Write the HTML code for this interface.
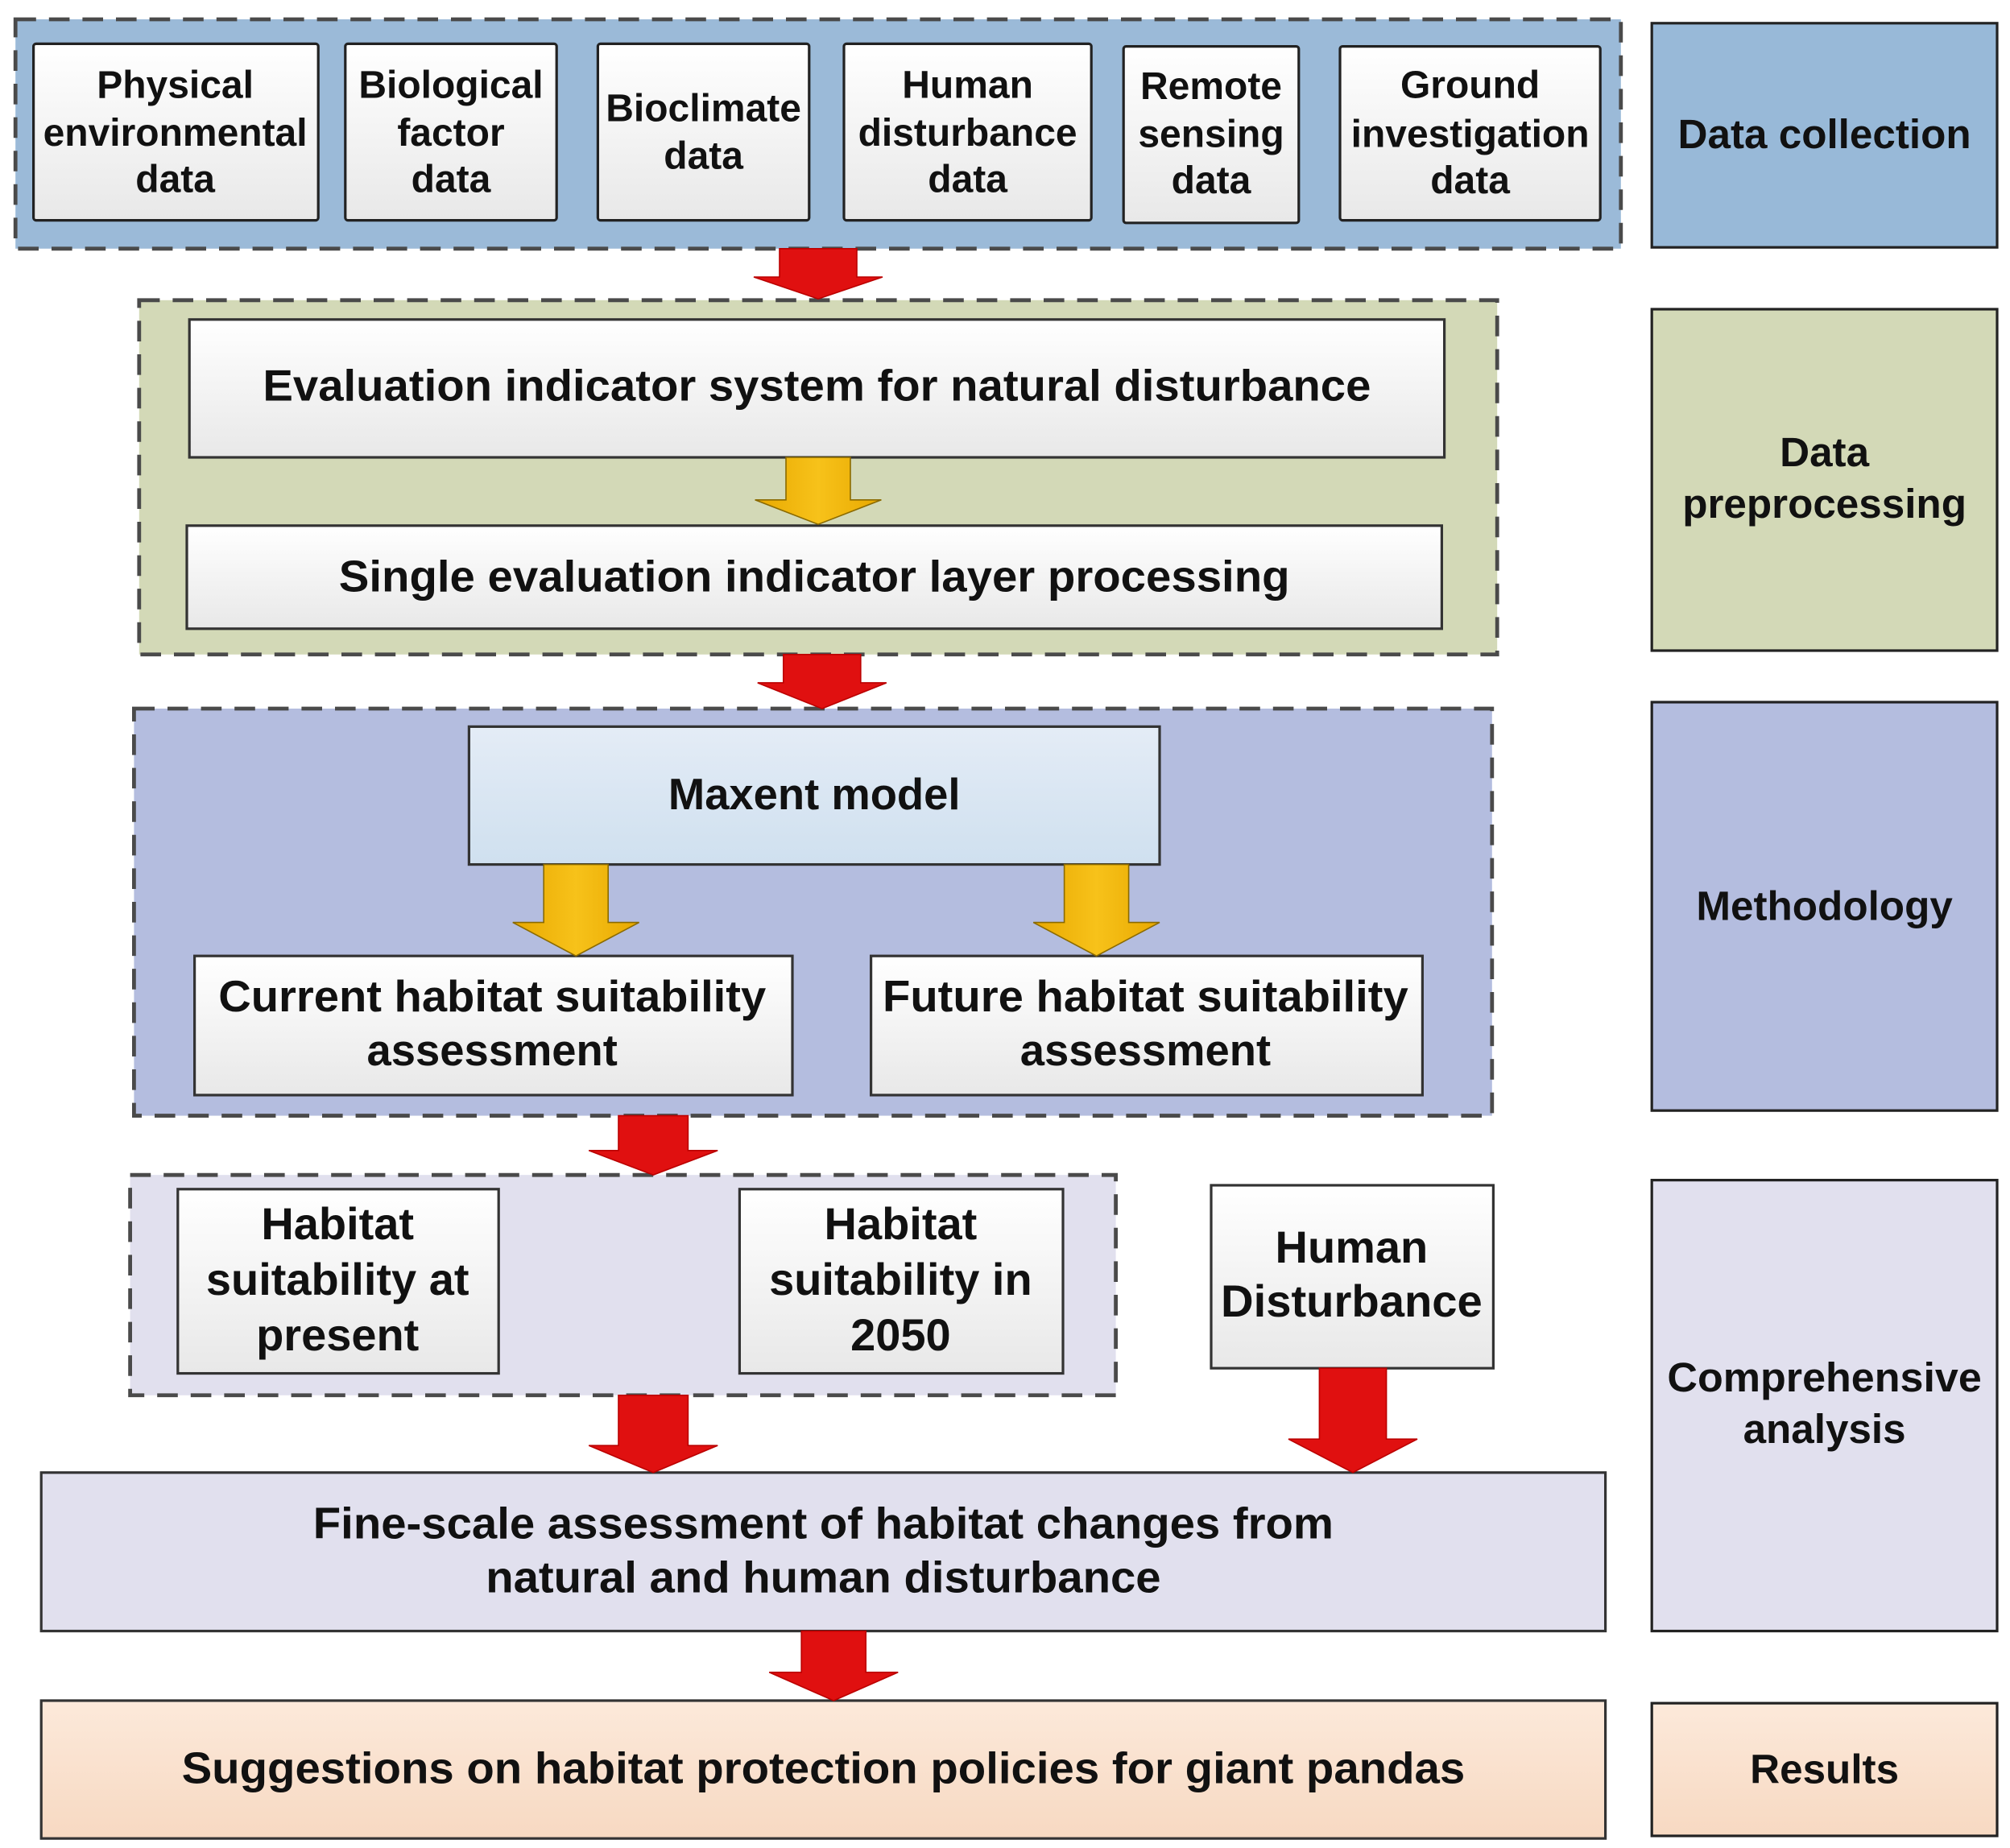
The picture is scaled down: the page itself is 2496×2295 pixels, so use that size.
<!DOCTYPE html>
<html><head><meta charset="utf-8"><style>
html,body{margin:0;padding:0;background:#fff;}
svg{display:block;}
text{font-family:"Liberation Sans",Arial,sans-serif;font-weight:bold;fill:#111;text-anchor:middle;}
</style></head><body>
<svg width="2496" height="2295" viewBox="0 0 1560 1434.4" preserveAspectRatio="none" xmlns="http://www.w3.org/2000/svg">
<defs>
<linearGradient id="wg" x1="0" y1="0" x2="0" y2="1"><stop offset="0" stop-color="#ffffff"/><stop offset="1" stop-color="#e8e8e8"/></linearGradient>
<linearGradient id="bg" x1="0" y1="0" x2="0" y2="1"><stop offset="0" stop-color="#e4ecf6"/><stop offset="1" stop-color="#cfe0ef"/></linearGradient>
<linearGradient id="pg" x1="0" y1="0" x2="0" y2="1"><stop offset="0" stop-color="#fce9da"/><stop offset="1" stop-color="#f7d9c2"/></linearGradient>
<linearGradient id="yg" x1="0" y1="0" x2="1" y2="0"><stop offset="0" stop-color="#e8a800"/><stop offset="0.5" stop-color="#f7c21a"/><stop offset="1" stop-color="#e8a800"/></linearGradient>
</defs>

<rect x="12" y="15" width="1246" height="178" fill="#9bbad8" stroke="#4a4a4a" stroke-width="3" stroke-dasharray="16,10"/>
<rect x="108" y="233" width="1054" height="275" fill="#d3d9b7" stroke="#4a4a4a" stroke-width="3" stroke-dasharray="16,10"/>
<rect x="104" y="550" width="1054" height="316" fill="#b4bddf" stroke="#4a4a4a" stroke-width="3" stroke-dasharray="16,10"/>
<rect x="101" y="912" width="765" height="171" fill="#e1e0ee" stroke="#4a4a4a" stroke-width="3" stroke-dasharray="16,10"/>

<rect x="1282" y="18" width="268" height="174" fill="#98b9d8" stroke="#222" stroke-width="2"/>
<text x="1416" y="115" font-size="32">Data collection</text>
<rect x="1282" y="240" width="268" height="265" fill="#d3d9b7" stroke="#222" stroke-width="2"/>
<text x="1416" y="362" font-size="32">Data</text>
<text x="1416" y="402" font-size="32">preprocessing</text>
<rect x="1282" y="545" width="268" height="317" fill="#b4bddf" stroke="#222" stroke-width="2"/>
<text x="1416" y="714" font-size="32">Methodology</text>
<rect x="1282" y="916" width="268" height="350" fill="#e1e0ee" stroke="#222" stroke-width="2"/>
<text x="1416" y="1080" font-size="32" textLength="244" lengthAdjust="spacingAndGlyphs">Comprehensive</text>
<text x="1416" y="1120" font-size="32">analysis</text>
<rect x="1282" y="1322" width="268" height="103" fill="url(#pg)" stroke="#222" stroke-width="2"/>
<text x="1416" y="1384" font-size="32">Results</text>

<g stroke="#222" stroke-width="2" fill="url(#wg)">
<rect x="26" y="34" width="221" height="137" rx="2"/>
<rect x="268" y="34" width="164" height="137" rx="2"/>
<rect x="464" y="34" width="164" height="137" rx="2"/>
<rect x="655" y="34" width="192" height="137" rx="2"/>
<rect x="872" y="36" width="136" height="137" rx="2"/>
<rect x="1040" y="36" width="202" height="135" rx="2"/>
</g>
<g font-size="30">
<text x="136" y="76">Physical</text><text x="136" y="113">environmental</text><text x="136" y="149">data</text>
<text x="350" y="76">Biological</text><text x="350" y="113">factor</text><text x="350" y="149">data</text>
<text x="546" y="94">Bioclimate</text><text x="546" y="131">data</text>
<text x="751" y="76">Human</text><text x="751" y="113">disturbance</text><text x="751" y="149">data</text>
<text x="940" y="77">Remote</text><text x="940" y="114">sensing</text><text x="940" y="150">data</text>
<text x="1141" y="76">Ground</text><text x="1141" y="114">investigation</text><text x="1141" y="150">data</text>
</g>

<rect x="147" y="248" width="974" height="107" fill="url(#wg)" stroke="#333" stroke-width="2"/>
<text x="634" y="311" font-size="34" textLength="860" lengthAdjust="spacingAndGlyphs">Evaluation indicator system for natural disturbance</text>
<rect x="145" y="408" width="974" height="80" fill="url(#wg)" stroke="#333" stroke-width="2"/>
<text x="632" y="459" font-size="34" textLength="738" lengthAdjust="spacingAndGlyphs">Single evaluation indicator layer processing</text>

<rect x="364" y="564" width="536" height="107" fill="url(#bg)" stroke="#333" stroke-width="2"/>
<text x="632" y="628" font-size="34">Maxent model</text>
<rect x="151" y="742" width="464" height="108" fill="url(#wg)" stroke="#333" stroke-width="2"/>
<text x="382" y="785" font-size="34" textLength="425" lengthAdjust="spacingAndGlyphs">Current habitat suitability</text>
<text x="382" y="827" font-size="34">assessment</text>
<rect x="676" y="742" width="428" height="108" fill="url(#wg)" stroke="#333" stroke-width="2"/>
<text x="889" y="785" font-size="34" textLength="408" lengthAdjust="spacingAndGlyphs">Future habitat suitability</text>
<text x="889" y="827" font-size="34">assessment</text>

<rect x="138" y="923" width="249" height="143" fill="url(#wg)" stroke="#333" stroke-width="2"/>
<text x="262" y="962" font-size="35">Habitat</text><text x="262" y="1005" font-size="35">suitability at</text><text x="262" y="1048" font-size="35">present</text>
<rect x="574" y="923" width="251" height="143" fill="url(#wg)" stroke="#333" stroke-width="2"/>
<text x="699" y="962" font-size="35">Habitat</text><text x="699" y="1005" font-size="35">suitability in</text><text x="699" y="1048" font-size="35">2050</text>
<rect x="940" y="920" width="219" height="142" fill="url(#wg)" stroke="#333" stroke-width="2"/>
<text x="1049" y="980" font-size="35">Human</text><text x="1049" y="1022" font-size="35" textLength="203" lengthAdjust="spacingAndGlyphs">Disturbance</text>

<rect x="32" y="1143" width="1214" height="123" fill="#e1e0ee" stroke="#333" stroke-width="2"/>
<text x="639" y="1194" font-size="34" textLength="792" lengthAdjust="spacingAndGlyphs">Fine-scale assessment of habitat changes from</text>
<text x="639" y="1236" font-size="34" textLength="524" lengthAdjust="spacingAndGlyphs">natural and human disturbance</text>

<rect x="32" y="1320" width="1214" height="107" fill="url(#pg)" stroke="#333" stroke-width="2"/>
<text x="639" y="1384" font-size="34" textLength="996" lengthAdjust="spacingAndGlyphs">Suggestions on habitat protection policies for giant pandas</text>

<g fill="#e01010" stroke="#b00" stroke-width="1">
<polygon points="605,193 665,193 665,215 685,215 635,232 585,215 605,215"/>
<polygon points="608,508 668,508 668,530 688,530 638,550 588,530 608,530"/>
<polygon points="480,866 534,866 534,893 557,893 507,912 457,893 480,893"/>
<polygon points="480,1083 534,1083 534,1122 557,1122 507,1143 457,1122 480,1122"/>
<polygon points="1024,1062 1076,1062 1076,1117 1100,1117 1050,1143 1000,1117 1024,1117"/>
<polygon points="622,1266 672,1266 672,1298 697,1298 647,1320 597,1298 622,1298"/>
</g>
<g fill="url(#yg)" stroke="#8a6a00" stroke-width="1">
<polygon points="610,355 660,355 660,388 684,388 635,407 586,388 610,388"/>
<polygon points="422,671 472,671 472,716 496,716 447,742 398,716 422,716"/>
<polygon points="826,671 876,671 876,716 900,716 851,742 802,716 826,716"/>
</g>
</svg>
</body></html>
